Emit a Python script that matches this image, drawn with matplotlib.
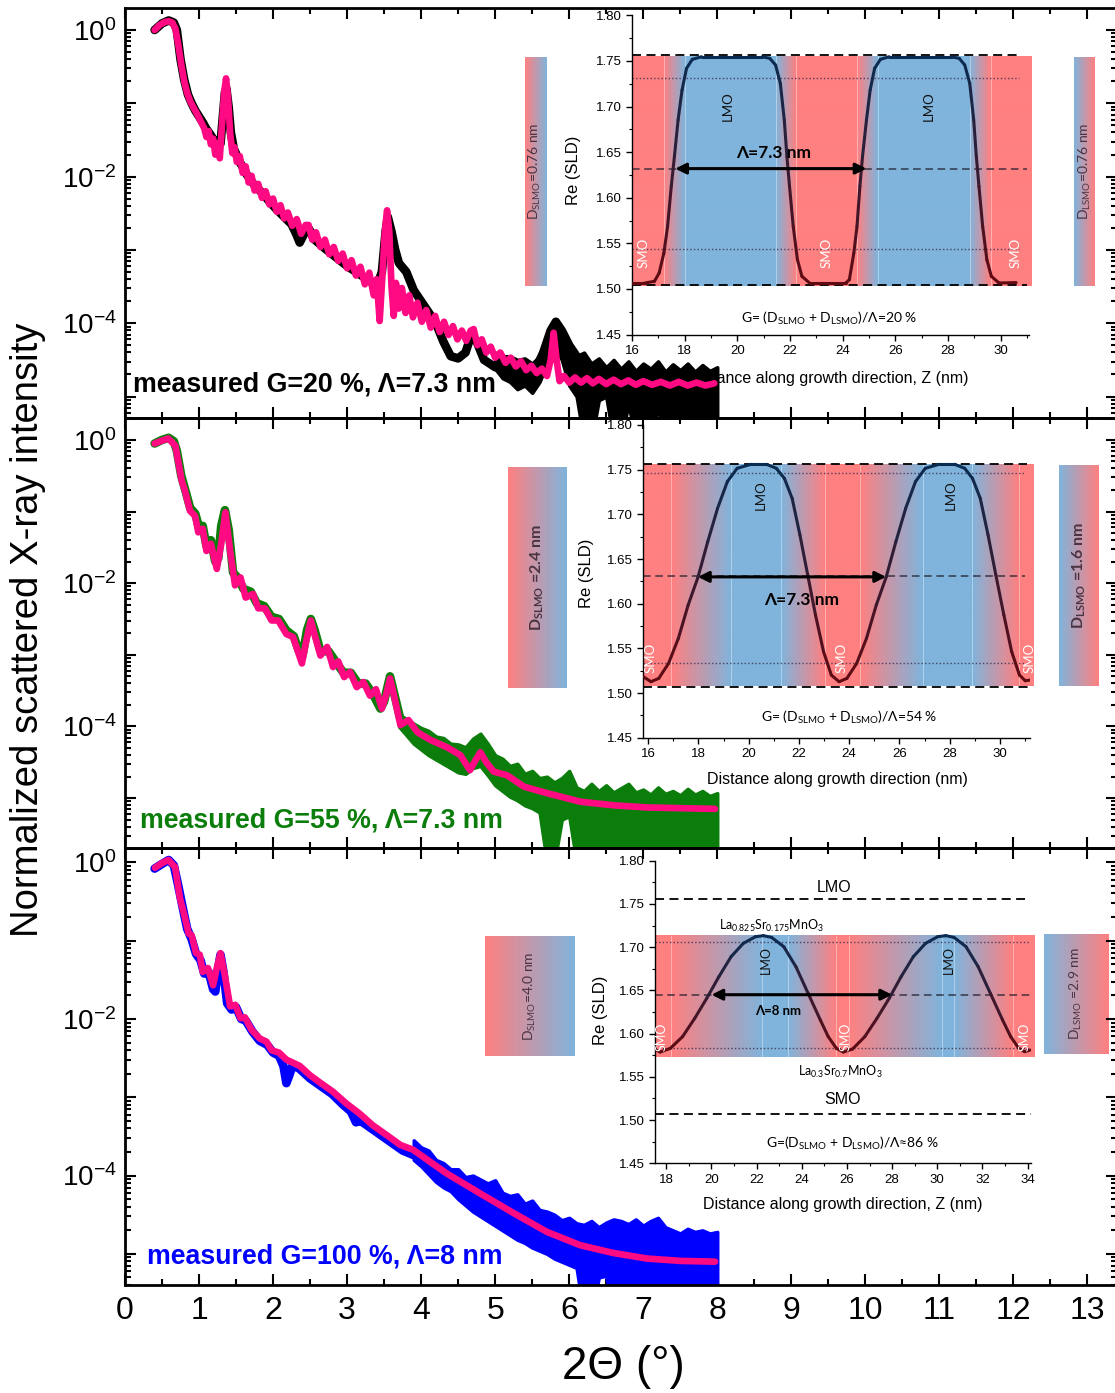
import numpy as np
import matplotlib
matplotlib.use("Agg")
import matplotlib.pyplot as plt
from matplotlib.colors import LinearSegmentedColormap, to_rgb, Normalize
from matplotlib.collections import LineCollection
from matplotlib.ticker import LogLocator, FuncFormatter, MultipleLocator, NullFormatter

plt.rcParams['font.family'] = ['Liberation Sans', 'DejaVu Sans']
plt.rcParams['mathtext.fontset'] = 'custom'
plt.rcParams['mathtext.rm'] = 'Liberation Sans'
plt.rcParams['mathtext.it'] = 'Liberation Sans:italic'
plt.rcParams['mathtext.bf'] = 'Liberation Sans:bold'
plt.rcParams['axes.unicode_minus'] = False

W, H = 1115, 1393
CAL = ['Lato', 'DejaVu Sans']

RED = '#ff8080'
BLUE = '#80b4dc'
PINK = '#ff0a82'

# ---------------- reflectivity data: 2theta (deg), log10 of normalized intensity ----------------
# G = 20 %
top_fit_x = [0.40, 0.47, 0.54, 0.59, 0.64, 0.68, 0.72, 0.76, 0.80, 0.84, 0.88, 0.92, 0.96, 1.00,
             1.04, 1.07, 1.10, 1.13, 1.16, 1.19, 1.22, 1.25, 1.28, 1.31, 1.34, 1.365, 1.39, 1.42,
             1.45, 1.48, 1.51, 1.55, 1.59, 1.63, 1.67, 1.71, 1.75, 1.80, 1.85, 1.90, 1.95, 2.00,
             2.05, 2.10, 2.15, 2.20, 2.26, 2.32, 2.38, 2.44, 2.48, 2.53, 2.58, 2.64, 2.70, 2.76,
             2.82, 2.88, 2.94, 3.00, 3.06, 3.12, 3.18, 3.24, 3.30, 3.36, 3.40, 3.44, 3.48, 3.51,
             3.54, 3.57, 3.60, 3.63, 3.66, 3.70, 3.74, 3.79, 3.84, 3.89, 3.95, 4.01, 4.07, 4.13,
             4.19, 4.25, 4.31, 4.37, 4.43, 4.49, 4.55, 4.61, 4.67, 4.71, 4.76, 4.82, 4.88, 4.94,
             5.00, 5.07, 5.14, 5.21, 5.28, 5.35, 5.42, 5.49, 5.56, 5.63, 5.70, 5.75, 5.79, 5.83,
             5.87, 5.93, 6.00, 6.08, 6.16, 6.24, 6.32, 6.40, 6.50, 6.60, 6.70, 6.80, 6.90, 7.00,
             7.12, 7.24, 7.36, 7.48, 7.60, 7.72, 7.84, 7.96]
top_fit_log = [0.00, 0.07, 0.11, 0.12, 0.10, 0.02, -0.20, -0.47, -0.70, -0.86, -0.97, -1.05, -1.12,
               -1.20, -1.28, -1.34, -1.46, -1.38, -1.56, -1.48, -1.70, -1.55, -1.75, -1.30, -0.85,
               -0.66, -0.90, -1.40, -1.68, -1.60, -1.80, -1.72, -1.95, -1.86, -2.08, -1.99, -2.19,
               -2.10, -2.29, -2.20, -2.38, -2.30, -2.48, -2.39, -2.57, -2.49, -2.67, -2.58, -2.78,
               -2.66, -2.66, -2.86, -2.76, -2.96, -2.86, -3.06, -2.96, -3.15, -3.05, -3.25, -3.14,
               -3.35, -3.23, -3.47, -3.31, -3.62, -3.40, -3.97, -3.30, -2.75, -2.46, -2.75, -3.50,
               -3.90, -3.45, -3.80, -3.52, -3.86, -3.62, -3.92, -3.72, -3.98, -3.82, -4.06, -3.90,
               -4.12, -3.98, -4.16, -4.04, -4.22, -4.10, -4.24, -4.10, -4.08, -4.30, -4.22, -4.40,
               -4.32, -4.47, -4.40, -4.54, -4.47, -4.59, -4.52, -4.64, -4.58, -4.68, -4.62, -4.72,
               -4.50, -4.13, -4.50, -4.79, -4.72, -4.81, -4.74, -4.81, -4.75, -4.82, -4.76, -4.83,
               -4.77, -4.83, -4.78, -4.84, -4.79, -4.84, -4.80, -4.85, -4.80, -4.85, -4.81, -4.85,
               -4.82]
top_meas_x = [0.40, 0.50, 0.59, 0.66, 0.70, 0.75, 0.80, 0.85, 0.90, 0.95, 1.00, 1.05, 1.10, 1.15,
              1.20, 1.25, 1.29, 1.32, 1.35, 1.37, 1.40, 1.43, 1.47, 1.55, 1.65, 1.75, 1.85, 1.95,
              2.05, 2.15, 2.25, 2.32, 2.36, 2.40, 2.45, 2.49, 2.55, 2.70, 2.85, 3.00, 3.15, 3.30,
              3.40, 3.47, 3.52, 3.55, 3.60, 3.65, 3.70, 3.80, 3.90, 4.00, 4.10, 4.20, 4.30, 4.40,
              4.50, 4.60, 4.68, 4.75, 4.85, 5.00, 5.20, 5.40, 5.55, 5.65, 5.75, 5.82, 5.90, 6.00,
              6.10, 6.20, 6.30]
top_meas_log = [0.00, 0.09, 0.13, 0.10, 0.00, -0.40, -0.68, -0.88, -1.00, -1.10, -1.18, -1.26,
                -1.35, -1.42, -1.50, -1.58, -1.55, -1.20, -0.85, -0.80, -1.05, -1.40, -1.62, -1.80,
                -1.98, -2.12, -2.22, -2.34, -2.45, -2.55, -2.65, -2.80, -2.90, -2.82, -2.72, -2.72,
                -2.85, -2.98, -3.10, -3.22, -3.32, -3.42, -3.50, -3.30, -2.75, -2.55, -2.75, -3.00,
                -3.18, -3.30, -3.55, -3.70, -3.85, -4.00, -4.25, -4.45, -4.48, -4.40, -4.15, -4.25,
                -4.50, -4.60, -4.65, -4.70, -4.62, -4.40, -4.10, -3.98, -4.10, -4.30, -4.45, -4.55,
                -4.62]
top_noise_x = [5.0, 5.1, 5.2, 5.3, 5.4, 5.5, 5.6, 5.7, 5.8, 5.9, 6.0, 6.1, 6.2, 6.3, 6.4, 6.5, 6.6,
               6.7, 6.8, 6.9, 7.0, 7.1, 7.2, 7.3, 7.4, 7.5, 7.6, 7.7, 7.8, 7.9, 8.0]
top_noise_hi = [-4.40, -4.45, -4.45, -4.50, -4.48, -4.55, -4.45, -4.30, -4.05, -4.15, -4.30, -4.45,
                -4.40, -4.55, -4.48, -4.60, -4.50, -4.62, -4.52, -4.65, -4.55, -4.62, -4.52, -4.66,
                -4.56, -4.64, -4.55, -4.66, -4.57, -4.65, -4.60]
top_noise_lo = [-4.62, -4.75, -4.80, -4.90, -4.85, -4.95, -4.80, -4.55, -4.30, -4.50, -4.85, -5.00,
                -5.60, -5.60, -5.05, -5.00, -5.60, -5.60, -5.10, -5.60, -5.60, -5.60, -5.15, -5.60,
                -5.60, -5.60, -5.60, -5.20, -5.60, -5.60, -5.60]

# G = 55 %
mid_fit_x = [0.40, 0.50, 0.585, 0.68, 0.766, 0.81, 0.878, 0.946, 0.99, 1.05, 1.10, 1.16, 1.24,
             1.30, 1.356, 1.42, 1.486, 1.56, 1.63, 1.73, 1.80, 1.89, 1.98, 2.07, 2.18, 2.27, 2.39,
             2.45, 2.51, 2.57, 2.64, 2.73, 2.81, 2.88, 2.96, 3.04, 3.13, 3.22, 3.31, 3.39, 3.47,
             3.53, 3.58, 3.63, 3.72, 3.83, 3.95, 4.13, 4.35, 4.53, 4.66, 4.73, 4.80, 4.88, 4.98,
             5.16, 5.39, 5.70, 6.15, 6.60, 7.05, 7.50, 7.97]
mid_fit_log = [-0.05, -0.01, 0.02, -0.08, -0.57, -0.71, -0.99, -1.06, -1.29, -1.24, -1.55, -1.45,
               -1.80, -1.45, -1.01, -1.55, -2.03, -1.92, -2.20, -2.15, -2.35, -2.35, -2.52, -2.52,
               -2.71, -2.75, -3.12, -2.80, -2.52, -2.75, -3.01, -2.89, -3.17, -3.09, -3.31, -3.24,
               -3.45, -3.38, -3.57, -3.48, -3.75, -3.55, -3.33, -3.55, -3.98, -3.91, -4.08, -4.19,
               -4.29, -4.40, -4.61, -4.48, -4.36, -4.50, -4.63, -4.68, -4.84, -4.93, -5.05, -5.10,
               -5.13, -5.14, -5.15]
mid_meas_x = [0.40, 0.50, 0.59, 0.66, 0.70, 0.76, 0.82, 0.88, 0.95, 1.00, 1.05, 1.10, 1.16, 1.22,
              1.26, 1.30, 1.35, 1.40, 1.46, 1.52, 1.60, 1.70, 1.78, 1.88, 1.98, 2.08, 2.18, 2.28,
              2.35, 2.40, 2.46, 2.51, 2.56, 2.64, 2.75, 2.85, 2.95, 3.05, 3.15, 3.25, 3.35, 3.45,
              3.50, 3.58, 3.65, 3.72]
mid_meas_log = [-0.05, 0.00, 0.03, -0.02, -0.15, -0.50, -0.72, -0.95, -1.03, -1.22, -1.20, -1.48,
                -1.40, -1.70, -1.65, -1.20, -0.98, -1.25, -1.85, -1.92, -2.08, -2.12, -2.28, -2.32,
                -2.47, -2.50, -2.66, -2.74, -2.95, -3.00, -2.65, -2.50, -2.65, -2.95, -2.95, -3.10,
                -3.25, -3.25, -3.40, -3.40, -3.55, -3.75, -3.65, -3.30, -3.60, -3.90]
mid_noise_x = [3.7, 3.8, 3.9, 4.0, 4.1, 4.2, 4.3, 4.4, 4.5, 4.6, 4.7, 4.8, 4.9, 5.0, 5.1, 5.2,
               5.3, 5.4, 5.5, 5.6, 5.7, 5.8, 5.9, 6.0, 6.1, 6.2, 6.3, 6.4, 6.5, 6.6, 6.7, 6.8,
               6.9, 7.0, 7.1, 7.2, 7.3, 7.4, 7.5, 7.6, 7.7, 7.8, 7.9, 8.0]
mid_noise_hi = [-3.82, -3.90, -3.96, -4.02, -4.06, -4.14, -4.16, -4.24, -4.25, -4.29, -4.17,
                -4.10, -4.24, -4.40, -4.45, -4.55, -4.52, -4.66, -4.62, -4.72, -4.70, -4.78,
                -4.72, -4.62, -4.85, -4.90, -4.80, -4.90, -4.82, -4.92, -4.86, -4.80, -4.92,
                -4.88, -4.95, -4.85, -4.94, -4.90, -4.96, -4.87, -4.95, -4.90, -4.97, -4.93]
mid_noise_lo = [-4.00, -4.12, -4.24, -4.32, -4.40, -4.46, -4.52, -4.58, -4.64, -4.66, -4.58,
                -4.55, -4.68, -4.82, -4.90, -4.98, -5.03, -5.10, -5.14, -5.20, -5.90, -5.90,
                -5.30, -5.25, -5.90, -5.90, -5.90, -5.90, -5.90, -5.90, -5.90, -5.90, -5.90,
                -5.90, -5.90, -5.90, -5.90, -5.90, -5.90, -5.90, -5.90, -5.90, -5.90, -5.90]

# G = 100 %
bot_fit_x = [0.405, 0.50, 0.585, 0.676, 0.743, 0.80, 0.86, 0.90, 0.96, 1.01, 1.05, 1.12, 1.19,
             1.24, 1.29, 1.35, 1.42, 1.49, 1.56, 1.62, 1.71, 1.82, 1.91, 1.98, 2.08, 2.18, 2.36,
             2.50, 2.63, 2.81, 2.99, 3.17, 3.35, 3.53, 3.72, 3.89, 4.34, 4.80, 5.25, 5.70, 6.15,
             6.60, 7.05, 7.50, 7.97]
bot_fit_log = [-0.07, -0.01, 0.03, -0.06, -0.46, -0.67, -0.91, -0.93, -1.16, -1.18, -1.40, -1.35,
               -1.57, -1.35, -1.16, -1.45, -1.84, -1.82, -1.99, -1.98, -2.14, -2.25, -2.29, -2.40,
               -2.43, -2.52, -2.60, -2.72, -2.81, -2.93, -3.08, -3.21, -3.36, -3.48, -3.61, -3.67,
               -3.97, -4.23, -4.48, -4.72, -4.89, -4.99, -5.06, -5.09, -5.10]
bot_meas_x = [0.40, 0.50, 0.59, 0.66, 0.72, 0.78, 0.84, 0.90, 0.96, 1.02, 1.07, 1.13, 1.19, 1.22,
              1.26, 1.29, 1.33, 1.38, 1.44, 1.50, 1.57, 1.63, 1.72, 1.82, 1.92, 2.00, 2.08, 2.14,
              2.18, 2.22, 2.26, 2.35, 2.50, 2.65, 2.80, 2.95, 3.05, 3.12, 3.18, 3.30, 3.45, 3.60,
              3.75, 3.90]
bot_meas_log = [-0.08, -0.02, 0.03, -0.04, -0.30, -0.58, -0.85, -0.98, -1.17, -1.25, -1.42, -1.40,
                -1.62, -1.65, -1.35, -1.18, -1.40, -1.80, -1.88, -1.85, -2.00, -2.02, -2.16, -2.28,
                -2.33, -2.43, -2.47, -2.60, -2.82, -2.72, -2.60, -2.63, -2.76, -2.86, -2.96, -3.10,
                -3.18, -3.32, -3.30, -3.38, -3.48, -3.58, -3.68, -3.74]
bot_noise_x = [3.9, 4.0, 4.1, 4.2, 4.3, 4.4, 4.5, 4.6, 4.7, 4.8, 4.9, 5.0, 5.1, 5.2, 5.3, 5.4,
               5.5, 5.6, 5.7, 5.8, 5.9, 6.0, 6.1, 6.2, 6.3, 6.4, 6.5, 6.6, 6.7, 6.8, 6.9, 7.0,
               7.1, 7.2, 7.3, 7.4, 7.5, 7.6, 7.7, 7.8, 7.9, 8.0]
bot_noise_hi = [-3.55, -3.64, -3.68, -3.80, -3.84, -3.92, -3.92, -4.02, -4.00, -4.05, -4.10, -4.06,
                -4.22, -4.26, -4.24, -4.36, -4.32, -4.44, -4.46, -4.50, -4.57, -4.54, -4.61, -4.63,
                -4.58, -4.66, -4.60, -4.56, -4.58, -4.62, -4.56, -4.64, -4.58, -4.54, -4.66, -4.70,
                -4.74, -4.68, -4.72, -4.70, -4.74, -4.72]
bot_noise_lo = [-3.80, -3.88, -3.98, -4.08, -4.15, -4.20, -4.30, -4.38, -4.46, -4.52, -4.58, -4.64,
                -4.70, -4.76, -4.82, -4.86, -4.92, -4.96, -5.00, -5.06, -5.10, -5.14, -5.18, -5.80,
                -5.80, -5.30, -5.28, -5.80, -5.80, -5.80, -5.80, -5.80, -5.80, -5.80, -5.80, -5.80,
                -5.80, -5.80, -5.80, -5.80, -5.80, -5.80]

# ---------------- SLD depth profiles: z (nm), Re(SLD) ----------------
top_z = [16.00, 16.49, 16.85, 17.03, 17.21, 17.35, 17.49, 17.61, 17.75, 17.90, 18.07, 18.29, 18.64,
         20.94, 21.23, 21.45, 21.63, 21.78, 21.88, 21.98, 22.12, 22.28, 22.45, 22.74, 24.11, 24.25,
         24.42, 24.54, 24.65, 24.75, 24.90, 25.04, 25.21, 25.43, 25.76, 28.13, 28.42, 28.63, 28.82,
         28.97, 29.07, 29.17, 29.31, 29.47, 29.64, 29.93, 30.58]
top_sld = [1.5066, 1.5066, 1.5084, 1.5175, 1.5394, 1.5686, 1.6124, 1.6453, 1.6854, 1.7182, 1.7420,
           1.7518, 1.7547, 1.7547, 1.7529, 1.7456, 1.7255, 1.6854, 1.6453, 1.6124, 1.5686, 1.5321,
           1.5139, 1.5066, 1.5066, 1.5102, 1.5394, 1.5686, 1.6124, 1.6453, 1.6854, 1.7182, 1.7420,
           1.7518, 1.7547, 1.7547, 1.7529, 1.7456, 1.7255, 1.6854, 1.6453, 1.6124, 1.5686, 1.5321,
           1.5139, 1.5066, 1.5070]
mid_z = [15.80, 16.11, 16.42, 16.81, 17.20, 17.59, 17.98, 18.37, 18.76, 19.15, 19.54, 20.09, 20.71,
         21.10, 21.42, 21.73, 22.04, 22.35, 22.66, 22.98, 23.29, 23.60, 23.91, 24.30, 24.69, 25.08,
         25.47, 25.86, 26.25, 26.64, 27.03, 27.58, 28.20, 28.60, 28.91, 29.22, 29.53, 29.84, 30.16,
         30.47, 30.78, 31.01, 31.20]
mid_sld = [1.5183, 1.5127, 1.5164, 1.5332, 1.5612, 1.5985, 1.6295, 1.6694, 1.7067, 1.7366, 1.7515,
           1.7560, 1.7560, 1.7515, 1.7403, 1.7179, 1.6769, 1.6321, 1.5873, 1.5463, 1.5201, 1.5127,
           1.5164, 1.5332, 1.5612, 1.5985, 1.6295, 1.6694, 1.7067, 1.7366, 1.7515, 1.7560, 1.7560,
           1.7515, 1.7403, 1.7179, 1.6769, 1.6321, 1.5873, 1.5463, 1.5201, 1.5138, 1.5145]
bot_z = [17.55, 17.73, 18.18, 18.72, 19.26, 19.79, 20.33, 20.87, 21.41, 21.95, 22.30, 22.66, 23.20,
         23.74, 24.28, 24.82, 25.17, 25.53, 25.84, 26.25, 26.79, 27.33, 27.87, 28.40, 28.94, 29.48,
         30.02, 30.38, 30.74, 31.27, 31.81, 32.35, 32.89, 33.25, 33.61, 33.87, 34.11]
bot_sld = [1.5810, 1.5787, 1.5830, 1.5965, 1.6177, 1.6408, 1.6659, 1.6890, 1.7044, 1.7121, 1.7133,
           1.7113, 1.7006, 1.6774, 1.6466, 1.6158, 1.5965, 1.5830, 1.5787, 1.5822, 1.5965, 1.6177,
           1.6408, 1.6659, 1.6890, 1.7044, 1.7121, 1.7133, 1.7113, 1.7006, 1.6774, 1.6466, 1.6158,
           1.5965, 1.5830, 1.5791, 1.5810]

# layer colour stops across each profile (r = SrMnO3-like, b = LaMnO3-like)
top_band_z = [16.0, 17.2, 18.0, 21.46, 22.24, 24.54, 25.33, 28.82, 29.61, 31.18]
mid_band_z = [15.8, 16.92, 19.31, 21.3, 23.05, 24.43, 26.93, 28.9, 30.78, 31.36]
bot_band_z = [17.5, 18.2, 22.25, 23.4, 25.53, 26.07, 30.2, 30.74, 33.34, 34.3]
band_keys = ['r', 'r', 'b', 'b', 'r', 'r', 'b', 'b', 'r', 'r']

fig = plt.figure(figsize=(W / 100, H / 100), dpi=100)


def box(x0, y0, x1, y1):
    return [x0 / W, 1 - y1 / H, (x1 - x0) / W, (y1 - y0) / H]


def draw_band(ax, stops, y0, y1):
    cols = np.array([to_rgb(RED if k == 'r' else BLUE) for k in band_keys])
    zz = np.linspace(stops[0], stops[-1], 800)
    rgb = np.stack([np.interp(zz, stops, cols[:, i]) for i in range(3)], axis=1)
    ax.imshow(rgb[None, :, :], extent=[stops[0], stops[-1], y0, y1], aspect='auto',
              interpolation='bilinear', zorder=0, clip_on=False)
    for s in stops[1:-1]:
        ax.plot([s, s], [y0, y1], color='white', lw=0.6, alpha=0.45, zorder=0.5, clip_on=False)


def draw_profile(ax, z, sld):
    pts = np.column_stack([z, sld])
    segs = np.stack([pts[:-1], pts[1:]], axis=1)
    cmap = LinearSegmentedColormap.from_list('depth', ['#620a12', '#0a2c52'])
    lc = LineCollection(segs, cmap=cmap, norm=Normalize(min(sld), max(sld)), lw=2.2,
                        capstyle='round', joinstyle='round', zorder=3)
    lc.set_array((pts[:-1, 1] + pts[1:, 1]) / 2)
    ax.add_collection(lc)


def style_inset(ax, xlim, xmajor, xlabel, xlab_xy, ylab_xy):
    ax.set_xlim(*xlim)
    ax.set_ylim(1.45, 1.80)
    ax.spines['top'].set_visible(False)
    ax.spines['right'].set_visible(False)
    for s in ('left', 'bottom'):
        ax.spines[s].set_linewidth(1.0)
    ax.xaxis.set_major_locator(MultipleLocator(xmajor))
    ax.xaxis.set_minor_locator(MultipleLocator(xmajor / 2))
    ax.yaxis.set_major_locator(MultipleLocator(0.05))
    ax.yaxis.set_minor_locator(MultipleLocator(0.025))
    ax.yaxis.set_major_formatter(FuncFormatter(lambda v, p: f'{v:.2f}'))
    ax.tick_params(which='major', direction='out', length=4, width=1, labelsize=9.5)
    ax.tick_params(which='minor', direction='out', length=2.5, width=0.8)
    ax.set_xlabel(xlabel, fontsize=11.5)
    ax.set_ylabel('Re (SLD)', fontsize=12)
    ax.xaxis.set_label_coords(*xlab_xy)
    ax.yaxis.set_label_coords(*ylab_xy)
    ax.patch.set_alpha(0)


def hline(ax, y, x0, x1, **kw):
    ax.plot([x0, x1], [y, y], **kw)


def arrow(ax, x0, x1, y):
    ax.annotate('', xy=(x1, y), xytext=(x0, y),
                arrowprops=dict(arrowstyle='<|-|>', color='k', lw=2.2, mutation_scale=16,
                                shrinkA=0, shrinkB=0), zorder=4)


def layer_tags(ax, lmo, smo, y_lmo, y_smo, size):
    for zx in lmo:
        ax.text(zx, y_lmo, 'LMO', rotation=90, ha='center', va='center', fontsize=size,
                family=CAL, color='#111111', zorder=4)
    for zx in smo:
        ax.text(zx, y_smo, 'SMO', rotation=90, ha='center', va='center', fontsize=size,
                family=CAL, color='white', zorder=4)


def side_bar(px_box, left, right, label, bold, size):
    a = fig.add_axes(box(*px_box), zorder=1)
    cmap = LinearSegmentedColormap.from_list('bar', [left, right])
    a.imshow(np.linspace(0, 1, 256)[None, :], cmap=cmap, aspect='auto', extent=[0, 1, 0, 1])
    a.set_axis_off()
    a.text(0.5, 0.5, label, rotation=90, ha='center', va='center', transform=a.transAxes,
           fontsize=size, family=CAL, fontweight='bold' if bold else 'normal', color='#4a3442')


sub = lambda s: r'$_{\mathregular{' + s + '}}$'
dash_k = dict(color='k', lw=1.3, ls=(0, (5, 3)), zorder=2)
dash_mid = dict(color='#1a1a2a', lw=1.1, ls=(0, (5, 3)), alpha=0.8, zorder=2)
dot_k = dict(color='#3a3050', lw=1.0, ls=(0, (1, 1.6)), alpha=0.85, zorder=2)

# ---------------- inset 1: G = 20 % ----------------
ia = fig.add_axes(box(632, 15.4, 1028.5, 334.6), zorder=1)
draw_band(ia, top_band_z, 1.503, 1.755)
hline(ia, 1.7562, 16.0, 30.7, **dash_k)
hline(ia, 1.5047, 16.0, 31.0, **dash_k)
hline(ia, 1.632, 16.0, 31.0, **dash_mid)
hline(ia, 1.7314, 16.0, 30.7, **dot_k)
hline(ia, 1.5434, 16.0, 30.7, **dot_k)
draw_profile(ia, top_z, top_sld)
arrow(ia, 17.64, 24.90, 1.632)
ia.text(21.38, 1.649, 'Λ=7.3 nm', ha='center', va='center', fontsize=12.5, family=CAL,
        fontweight='bold', zorder=4)
layer_tags(ia, [19.65, 27.27], [16.42, 23.39, 30.55], 1.70, 1.54, 9.5)
ia.text(23.5, 1.468, 'G= (D' + sub('SLMO') + ' + D' + sub('LSMO') + ')/Λ=20 %', ha='center',
        va='center', fontsize=10, family=CAL)
style_inset(ia, (16.0, 31.05), 2, 'Distance along growth direction, Z (nm)',
            (0.497, -0.114), (-0.129, 0.516))

# ---------------- inset 2: G = 55 % ----------------
ib = fig.add_axes(box(643.2, 425, 1030, 737.7), zorder=1)
draw_band(ib, mid_band_z, 1.508, 1.756)
hline(ib, 1.7567, 15.8, 31.1, **dash_k)
hline(ib, 1.5071, 15.8, 31.45, **dash_k)
hline(ib, 1.6313, 15.8, 31.0, **dash_mid)
hline(ib, 1.7459, 15.8, 31.0, **dot_k)
hline(ib, 1.5332, 15.8, 31.0, **dot_k)
draw_profile(ib, mid_z, mid_sld)
arrow(ib, 17.98, 25.47, 1.630)
ib.text(22.1, 1.604, 'Λ=7.3 nm', ha='center', va='center', fontsize=12.5, family=CAL,
        fontweight='bold', zorder=4)
layer_tags(ib, [20.48, 28.05], [16.1, 23.68, 31.17], 1.722, 1.539, 9.5)
ib.text(24.0, 1.473, 'G= (D' + sub('SLMO') + ' + D' + sub('LSMO') + ')/Λ=54 %', ha='center',
        va='center', fontsize=10, family=CAL)
style_inset(ib, (15.8, 31.2), 2, 'Distance along growth direction (nm)',
            (0.501, -0.110), (-0.127, 0.527))

# ---------------- inset 3: G = 100 % ----------------
ic = fig.add_axes(box(655, 860.7, 1031, 1163.3), zorder=1)
draw_band(ic, bot_band_z, 1.573, 1.713)
hline(ic, 1.7557, 17.5, 33.9, **dash_k)
hline(ic, 1.5067, 17.5, 34.2, **dash_k)
hline(ic, 1.6447, 17.5, 34.2, **dash_mid)
hline(ic, 1.7063, 17.5, 34.1, **dot_k)
hline(ic, 1.5837, 17.5, 34.1, **dot_k)
draw_profile(ic, bot_z, bot_sld)
arrow(ic, 20.0, 28.0, 1.645)
ic.text(22.93, 1.626, 'Λ=8 nm', ha='center', va='center', fontsize=9.5, family=CAL,
        fontweight='bold', zorder=4)
layer_tags(ic, [22.43, 30.5], [17.8, 25.95, 33.87], 1.685, 1.596, 9)
ic.text(25.44, 1.769, 'LMO', ha='center', va='center', fontsize=11.5)
ic.text(25.8, 1.524, 'SMO', ha='center', va='center', fontsize=11.5)
ic.text(22.66, 1.724, 'La' + sub('0.825') + 'Sr' + sub('0.175') + 'MnO' + sub('3'), ha='center',
        va='center', fontsize=9, family=CAL)
ic.text(25.7, 1.556, 'La' + sub('0.3') + 'Sr' + sub('0.7') + 'MnO' + sub('3'), ha='center',
        va='center', fontsize=9, family=CAL)
ic.text(26.25, 1.473, 'G=(D' + sub('SLMO') + ' + D' + sub('LSMO') + ')/Λ≈86 %', ha='center',
        va='center', fontsize=10, family=CAL)
style_inset(ic, (17.5, 34.15), 2, 'Distance along growth direction, Z (nm)',
            (0.499, -0.110), (-0.126, 0.507))

# ---------------- thickness bars ----------------
side_bar((524.5, 57, 546, 286), RED, BLUE, 'D' + sub('SLMO') + '=0.76 nm', False, 10)
side_bar((1074, 57, 1095, 286), BLUE, RED, 'D' + sub('LSMO') + '=0.76 nm', False, 10)
side_bar((508, 467, 567, 688), RED, BLUE, 'D' + sub('SLMO') + ' =2.4 nm', True, 11.5)
side_bar((1059, 465, 1099, 686), BLUE, RED, 'D' + sub('LSMO') + ' =1.6 nm', True, 11.5)
side_bar((485, 936, 575, 1056), RED, BLUE, 'D' + sub('SLMO') + '=4.0 nm', False, 10)
side_bar((1044, 934, 1108.6, 1054), BLUE, RED, 'D' + sub('LSMO') + ' =2.9 nm', False, 10)

# ---------------- main reflectivity panels ----------------
panels = [
    (8.3, 418, (0.296, -5.293), top_meas_x, top_meas_log, top_noise_x, top_noise_hi, top_noise_lo,
     top_fit_x, top_fit_log, 'black', 'measured G=20 %, Λ=7.3 nm', (133, 385)),
    (418, 848, (0.306, -5.696), mid_meas_x, mid_meas_log, mid_noise_x, mid_noise_hi, mid_noise_lo,
     mid_fit_x, mid_fit_log, '#0b7d0b', 'measured G=55 %, Λ=7.3 nm', (140, 821)),
    (848, 1285, (0.183, -5.398), bot_meas_x, bot_meas_log, bot_noise_x, bot_noise_hi, bot_noise_lo,
     bot_fit_x, bot_fit_log, '#0000ff', 'measured G=100 %, Λ=8 nm', (147, 1256)),
]


def even_decades(v, pos):
    e = int(round(np.log10(v)))
    return r'$\mathregular{10^{%d}}$' % e if e % 2 == 0 else ''


for i, (y0, y1, ylim, mx, ml, nx, nh, nl, fx, fl, col, label, lab_xy) in enumerate(panels):
    ax = fig.add_axes(box(125, y0, 1117, y1), zorder=5)
    ax.patch.set_alpha(0)
    ax.set_yscale('log')
    ax.fill_between(nx, np.power(10.0, nh), np.power(10.0, nl), color=col, lw=2.5,
                    edgecolor=col, zorder=2)
    ax.plot(mx, np.power(10.0, ml), color=col, lw=6.2, solid_joinstyle='round',
            solid_capstyle='round', zorder=2.2)
    ax.plot(fx, np.power(10.0, fl), color=PINK, lw=4.8, solid_joinstyle='round',
            solid_capstyle='round', zorder=3)
    ax.set_xlim(0, 13.4)
    ax.set_ylim(10 ** ylim[1], 10 ** ylim[0])
    ax.xaxis.set_major_locator(MultipleLocator(1))
    ax.xaxis.set_minor_locator(MultipleLocator(0.5))
    ax.yaxis.set_major_locator(LogLocator(base=10, numticks=20))
    ax.yaxis.set_minor_locator(LogLocator(base=10, subs=np.arange(2, 10), numticks=20))
    ax.yaxis.set_major_formatter(FuncFormatter(even_decades))
    ax.yaxis.set_minor_formatter(NullFormatter())
    ax.tick_params(which='both', direction='in', top=True, right=True, width=1.5)
    ax.tick_params(which='major', length=8)
    ax.tick_params(which='minor', length=4.5)
    ax.tick_params(axis='y', labelsize=20, pad=6)
    for s in ax.spines.values():
        s.set_linewidth(2.0)
    if i < 2:
        ax.tick_params(axis='x', labelbottom=False)
    else:
        ax.tick_params(axis='x', labelsize=23, pad=8)
    ax.text((lab_xy[0] - 125) / 992, (y1 - lab_xy[1]) / (y1 - y0), label, transform=ax.transAxes,
            ha='left', va='center', fontsize=19.3, fontweight='bold', color=col, zorder=1)

fig.text(28 / W, 1 - 630 / H, 'Normalized scattered X-ray intensity', rotation=90, ha='center',
         va='center', fontsize=27.5)
fig.text(623 / W, 1 - 1367 / H, '2Θ (°)', ha='center', va='center', fontsize=33)

fig.savefig('out.png', dpi=100)
